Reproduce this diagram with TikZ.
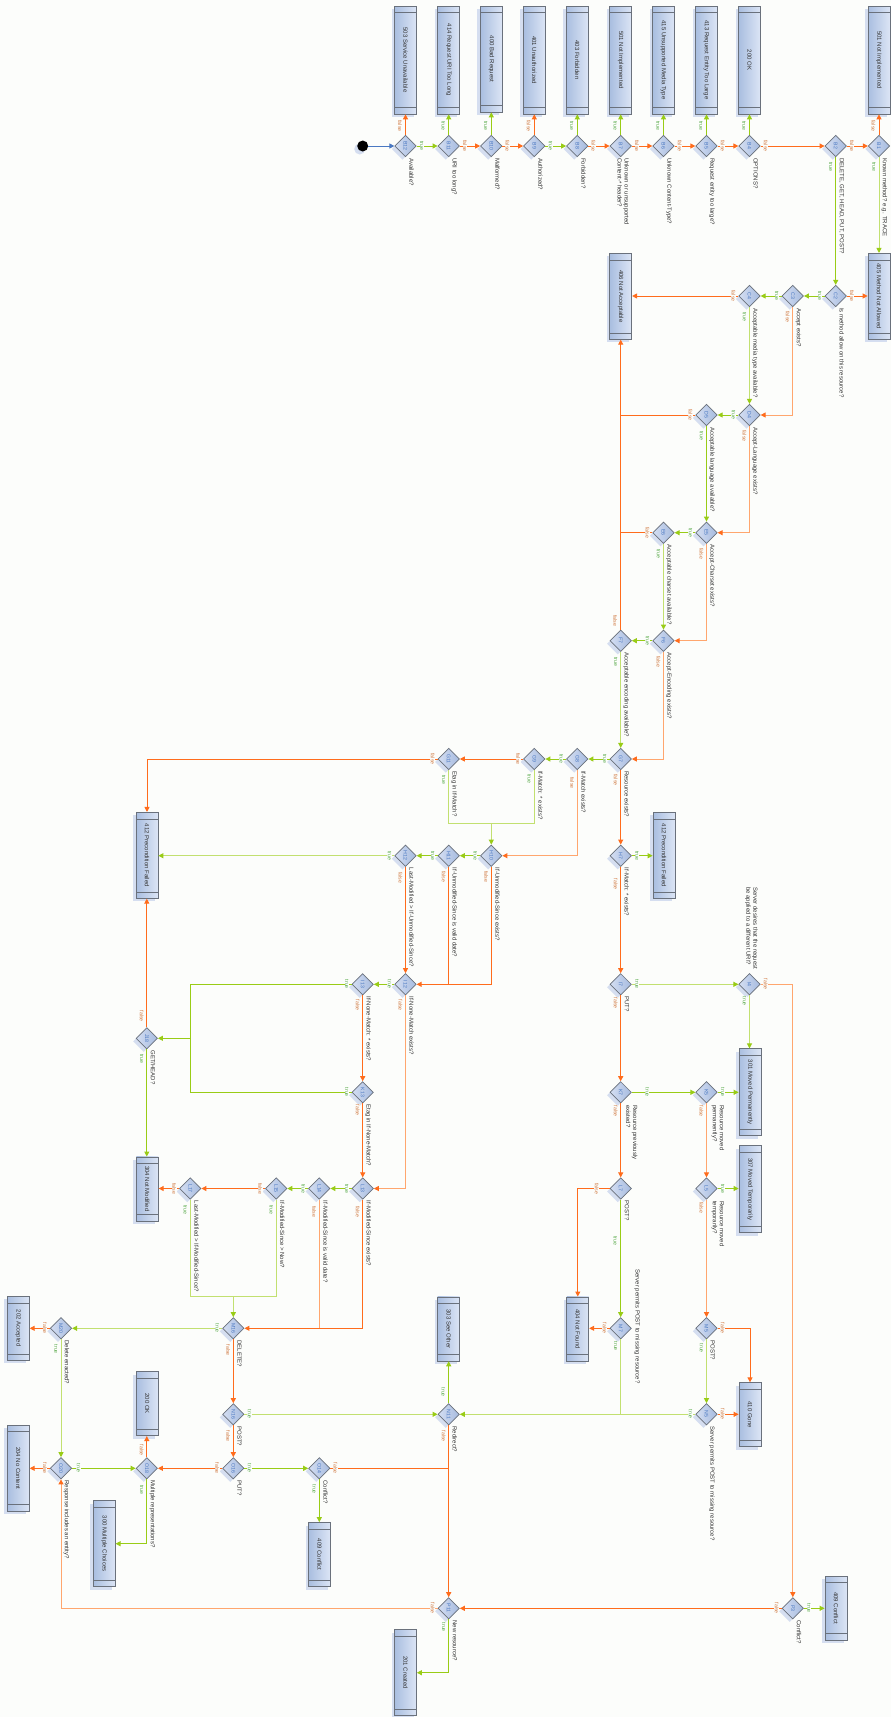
\documentclass[tikz,border=0pt]{standalone}
\usepackage{fontspec}
\setmainfont{Liberation Sans}
\usepackage{graphicx}
\usetikzlibrary{arrows.meta,shapes.geometric,shadows}
\definecolor{bg}{HTML}{FCFDFB}
\definecolor{org}{HTML}{FF6C1C}
\definecolor{orgL}{HTML}{FFA66E}
\definecolor{grn}{HTML}{99CC16}
\definecolor{grnL}{HTML}{C2E070}
\definecolor{tcol}{HTML}{55A846}
\definecolor{fcol}{HTML}{D07840}
\definecolor{idc}{HTML}{4A78C2}
\definecolor{bord}{HTML}{6A717C}
\definecolor{shad}{HTML}{D5DEF0}
\definecolor{boxL}{HTML}{DCE5F5}
\definecolor{boxR}{HTML}{A9BEE0}
\definecolor{diaL}{HTML}{D4DEF2}
\definecolor{diaR}{HTML}{A6BBDF}
\definecolor{txt}{HTML}{333333}
\newcommand\D[5][8.5,12]{\node[dia] (#2) at (#3,#4) {\rotatebox{-90}{#2}};
  \node[q] (#2q) at ([shift={(#1)}]#2.center) {#5};}
\newcommand\B[5]{\node[sbox, minimum height=#4pt] (#1) at (#2,#3) {\rotatebox{-90}{#5}};}
\newcommand\EV[3]{\draw[#1] (#2) -- (#2 |- #3);}
\newcommand\EH[3]{\draw[#1] (#2) -- (#2 -| #3);}
\newcommand\LT[3]{\node[lt] (#1-t) at ([shift={(#2,#3)}]#1.center) {true};}
\newcommand\LF[3]{\node[lf] (#1-f) at ([shift={(#2,#3)}]#1.center) {false};}
\begin{document}
\begin{tikzpicture}[x=1pt,y=-1pt,
  dia/.style={diamond, draw=bord, line width=0.7pt, inner sep=0pt,
    minimum width=21.5pt, minimum height=21.5pt, left color=diaL, right color=diaR,
    general shadow={fill=shad, shadow xshift=-3pt, shadow yshift=-3pt},
    font=\fontsize{5.2}{5.2}\selectfont, text=idc},
  sbox/.style={rectangle, draw=bord, line width=0.7pt, inner sep=0pt,
    minimum width=22pt, left color=boxR, right color=boxL,
    general shadow={fill=shad, shadow xshift=-3pt, shadow yshift=-3pt},
    font=\fontsize{6}{6}\selectfont, text=txt,
    path picture={\draw[bord, line width=0.6pt]
      ([yshift=-6.5pt]path picture bounding box.north west) -- ([yshift=-6.5pt]path picture bounding box.north east)
      ([yshift=6.5pt]path picture bounding box.south west) -- ([yshift=6.5pt]path picture bounding box.south east);}},
  q/.style={rotate=-90, anchor=north west, font=\fontsize{6}{7}\selectfont, align=left, inner sep=0pt, text=txt},
  lt/.style={rotate=-90, font=\fontsize{5.2}{5.2}\selectfont, text=tcol, fill=bg, inner sep=0.4pt},
  lf/.style={rotate=-90, font=\fontsize{5.2}{5.2}\selectfont, text=fcol, fill=bg, inner sep=0.4pt},
  e/.style={line width=1pt},
  tr/.style={e, draw=grn, -{Triangle[length=5pt,width=5pt]}},
  fa/.style={e, draw=org, -{Triangle[length=5pt,width=5pt]}},
  trl/.style={e, draw=grnL, -{Triangle[length=5pt,width=5pt,color=grn]}},
  fal/.style={e, draw=orgL, -{Triangle[length=5pt,width=5pt,color=org]}},
  trn/.style={e, draw=grn},
  fan/.style={e, draw=org},
  trnl/.style={e, draw=grnL},
  fanl/.style={e, draw=orgL},
  bl/.style={e, draw=idc, -{Triangle[length=5pt,width=5pt]}}]
\fill[bg] (0,0) rectangle (891,1717);
\useasboundingbox (0,0) rectangle (891,1717);

% ---- terminal boxes
\B{s503}{405.5}{60}{108}{503 Service Unavailable}
\B{s414}{448.7}{60}{108}{414 Request URI Too Long}
\B{s400}{491.3}{59}{106}{400 Bad Request}
\B{s401}{534.3}{60}{108}{401 Unauthorized}
\B{s403}{577.3}{60}{108}{403 Forbidden}
\B{s501a}{620.7}{60}{108}{501 Not Implemented}
\B{s415}{663.5}{60}{108}{415 Unsupported Media Type}
\B{s413}{706.5}{60}{108}{413 Request Entity Too Large}
\B{s200a}{749.5}{60}{108}{200 OK}
\B{s501b}{879}{60}{108}{501 Not Implemented}
\B{s405}{879}{296.3}{86}{405 Method Not Allowed}
\B{s406}{620.7}{296.3}{86}{406 Not Acceptable}
\B{s412a}{147}{855.3}{86}{412 Precondition Failed}
\B{s412b}{664}{855.3}{86}{412 Precondition Failed}
\B{s304}{147.3}{1188.9}{64}{304 Not Modified}
\B{s301}{750}{1092.3}{87}{301 Moved Permanently}
\B{s307}{750}{1189.2}{87}{307 Moved Temporarily}
\B{s404}{577.8}{1328.9}{64}{404 Not Found}
\B{s303}{448.7}{1328.9}{64}{303 See Other}
\B{s410}{750}{1414.7}{64}{410 Gone}
\B{s409a}{836}{1608}{64}{409 Conflict}
\B{s409b}{319.5}{1554.5}{64}{409 Conflict}
\B{s201}{405.5}{1672.7}{86}{201 Created}
\B{s200b}{147.3}{1403.7}{64}{200 OK}
\B{s300}{104.2}{1543.7}{86}{300 Multiple Choices}
\B{s202}{18.3}{1328.3}{64}{202 Accepted}
\B{s204}{18.3}{1468.2}{86}{204 No Content}

% ---- start
\node[circle, fill=black, minimum size=11pt, inner sep=0pt,
  general shadow={fill=shad, shadow xshift=-3pt, shadow yshift=-3pt}] (start) at (362.7,146) {};

% ---- decisions
\D{B12}{405.5}{146}{Available?}
\D{B11}{448.7}{146}{URI too long?}
\D{B10}{491.3}{146}{Malformed?}
\D{B9}{534.3}{146}{Authorized?}
\D{B8}{577.3}{146}{Forbidden?}
\D{B7}{620.7}{146}{Unknown or unsupported\\Content-* header?}
\D{B6}{663.5}{146}{Unknown Content-Type?}
\D{B5}{706.5}{146}{Request entity too large?}
\D{B4}{749.5}{146}{OPTIONS?}
\D{B2}{835.7}{146}{DELETE, GET, HEAD, PUT, POST?}
\D{B1}{879}{146}{Known method? e.g. TRACE}
\D{C2}{835.7}{296}{Is method allow on this resource?}
\D{C3}{792.8}{296}{Accept exists?}
\D{C4}{749.5}{296}{Acceptable media type available?}
\D{D4}{749.5}{415}{Accept-Language exists?}
\D{D5}{706.5}{415}{Acceptable language available?}
\D{E5}{706.5}{532.7}{Accept-Charset exists?}
\D{E6}{663.5}{532.7}{Acceptable charset available?}
\D{F6}{663.5}{640.7}{Accept-Encoding exists?}
\D{F7}{620.7}{640.7}{Acceptable encoding available?}
\D{G7}{620.7}{759}{Resource exists?}
\D{G8}{577.3}{759}{If-Match exists?}
\D{G9}{534.3}{759}{If-Match: * exists?}
\D{G11}{448.7}{759}{Etag in If-Match?}
\D{H7}{620.7}{855.7}{If-Match: * exists?}
\D{H10}{491.3}{855.7}{If-Unmodified-Since exists?}
\D{H11}{448.7}{855.7}{If-Unmodified-Since is valid date?}
\D{H12}{405.5}{855.7}{Last-Modified > If-Unmodified-Since?}
\D[8.5,-97.3]{I4}{749.5}{984.3}{Server desires that the request\\be applied to a different URI?}
\D{I7}{620.7}{984.3}{PUT?}
\D{I12}{405.5}{984.3}{If-None-Match exists?}
\D{I13}{362.7}{984.3}{If-None-Match: * exists?}
\D{J18}{146.8}{1038.3}{GET/HEAD?}
\D[18,12.5]{K5}{706.5}{1092.3}{Resource moved\\permanently?}
\D[17,12.5]{K7}{620.7}{1092.3}{Resource previously\\existed?}
\D{K13}{362.7}{1092.3}{Etag in If-None-Match?}
\D[18,12.5]{L5}{706.5}{1188.5}{Resource moved\\temporarily?}
\D{L7}{620.7}{1188.5}{POST?}
\D{L13}{362.7}{1188.5}{If-Modified-Since exists?}
\D{L14}{319.3}{1188.5}{If-Modified-Since is valid date?}
\D{L15}{276.2}{1188.5}{If-Modified-Since > Now?}
\D{L17}{190.3}{1188.5}{Last-Modified > If-Modified-Since?}
\D{M5}{706.5}{1328.3}{POST?}
\D[19.5,-59]{M7}{620.7}{1328.3}{Server permits POST to missing resource?}
\D{M16}{233.3}{1328.3}{DELETE?}
\D{M20}{61}{1328.3}{Delete enacted?}
\D{N5}{706.5}{1414.3}{Server permits POST to missing resource?}
\D{N11}{448.7}{1414.3}{Redirect?}
\D{N16}{233.3}{1414.3}{POST?}
\D{O14}{319.3}{1468.3}{Conflict?}
\D{O16}{233.3}{1468.3}{PUT?}
\D{O18}{146.8}{1468.3}{Multiple representations?}
\D{O20}{61}{1468.3}{Response includes an entity?}
\D{P3}{792.8}{1608.3}{Conflict?}
\D{P11}{448.7}{1608.3}{New resource?}

% ---- connectors
\draw[bl] (start) -- (B12.west);
\EV{fa}{B12.north}{s503.south}
\EH{tr}{B12.east}{B11.west}
\EV{tr}{B11.north}{s414.south}
\EH{fa}{B11.east}{B10.west}
\EV{tr}{B10.north}{s400.south}
\EH{fa}{B10.east}{B9.west}
\EV{fa}{B9.north}{s401.south}
\EH{tr}{B9.east}{B8.west}
\EV{tr}{B8.north}{s403.south}
\EH{fa}{B8.east}{B7.west}
\EV{tr}{B7.north}{s501a.south}
\EH{fa}{B7.east}{B6.west}
\EV{tr}{B6.north}{s415.south}
\EH{fa}{B6.east}{B5.west}
\EV{tr}{B5.north}{s413.south}
\EH{fa}{B5.east}{B4.west}
\EV{tr}{B4.north}{s200a.south}
\EH{fa}{B4.east}{B2.west}
\EH{fa}{B2.east}{B1.west}
\EV{tr}{B2.south}{C2.north}
\EV{fa}{B1.north}{s501b.south}
\EV{trl}{B1.south}{s405.north}
% C
\EH{fa}{C2.east}{s405.west}
\EH{tr}{C2.west}{C3.east}
\EH{tr}{C3.west}{C4.east}
\draw[fal] (C3.south) |- (D4.east);
\EH{fa}{C4.west}{s406.east}
\EV{trl}{C4.south}{D4.north}
% D
\EH{tr}{D4.west}{D5.east}
\draw[fal] (D4.south) |- (E5.east);
\draw[fan] (D5.west) -- (D5.west -| s406.south);
\EV{tr}{D5.south}{E5.north}
% E
\EH{tr}{E5.west}{E6.east}
\draw[fal] (E5.south) |- (F6.east);
\draw[fan] (E6.west) -- (E6.west -| s406.south);
\EV{trl}{E6.south}{F6.north}
% F
\EH{tr}{F6.west}{F7.east}
\draw[fal] (F6.south) |- (G7.east);
\EV{fa}{F7.north}{s406.south}
\EV{trl}{F7.south}{G7.north}
% G
\EH{tr}{G7.west}{G8.east}
\EV{fa}{G7.south}{H7.north}
\EH{tr}{G8.west}{G9.east}
\draw[fal] (G8.south) |- (H10.east);
\EH{fa}{G9.west}{G11.east}
\coordinate (jG) at (491.3,823.3);
\draw[trl] (G9.south) |- (jG) -- (H10.north);
\draw[trnl] (G11.south) |- (jG);
\draw[fa] (G11.west) -| (s412a.north);
% H
\EH{tr}{H7.east}{s412b.west}
\EV{fa}{H7.south}{I7.north}
\EH{tr}{H10.west}{H11.east}
\draw[fa] (H10.south) |- (I12.east);
\EH{tr}{H11.west}{H12.east}
\draw[fan] (H11.south) -- (H11.south |- I12.east);
\EH{trl}{H12.west}{s412a.east}
\EV{fa}{H12.south}{I12.north}
% I
\EH{trl}{I7.east}{I4.west}
\EV{fa}{I7.south}{K7.north}
\EV{trl}{I4.south}{s301.north}
\draw[fal] (I4.east) -| (P3.north);
\EH{tr}{I12.west}{I13.east}
\draw[fal] (I12.south) |- (L13.east);
\coordinate (jJ) at (190.3,1038.3);
\draw[tr] (I13.west) -| (jJ) -- (J18.east);
\draw[trn] (K13.west) -| (jJ);
\EV{fa}{I13.south}{K13.north}
% J
\EV{fa}{J18.north}{s412a.south}
\EV{tr}{J18.south}{s304.north}
% K
\EH{tr}{K7.east}{K5.west}
\EV{fa}{K7.south}{L7.north}
\EH{tr}{K5.east}{s301.west}
\EV{fal}{K5.south}{L5.north}
\EV{fa}{K13.south}{L13.north}
% L
\EH{tr}{L5.east}{s307.west}
\EV{fal}{L5.south}{M5.north}
\draw[fa] (L7.west) -| (s404.north);
\EV{tr}{L7.south}{M7.north}
\EH{tr}{L13.west}{L14.east}
\draw[fa] (L13.south) |- (M16.east);
\EH{tr}{L14.west}{L15.east}
\draw[fanl] (L14.south) -- (L14.south |- M16.east);
\EH{fa}{L15.west}{L17.east}
\coordinate (jM) at (233.3,1296);
\draw[trl] (L15.south) |- (jM) -- (M16.north);
\draw[trnl] (L17.south) |- (jM);
\EH{fa}{L17.west}{s304.east}
% M
\draw[fa] (M5.east) -| (s410.north);
\EV{trl}{M5.south}{N5.north}
\EH{fa}{M7.west}{s404.east}
\draw[trnl] (M7.south) -- (M7.south |- N5.west);
\EH{trl}{M16.west}{M20.east}
\EV{fa}{M16.south}{N16.north}
\EH{fa}{M20.west}{s202.east}
\EV{trl}{M20.south}{O20.north}
% N
\EH{fa}{N5.east}{s410.west}
\EH{trl}{N5.west}{N11.east}
\EV{tr}{N11.north}{s303.south}
\EV{fa}{N11.south}{P11.north}
\EH{trl}{N16.east}{N11.west}
\EV{fa}{N16.south}{O16.north}
% O
\EV{tr}{O14.south}{s409b.north}
\draw[fan] (O14.east) -- (O14.east -| N11.south);
\EH{tr}{O16.east}{O14.west}
\EH{fa}{O16.west}{O18.east}
\EV{fa}{O18.north}{s200b.south}
\draw[tr] (O18.south) |- (s300.east);
\EH{tr}{O20.east}{O18.west}
\EH{fa}{O20.west}{s204.east}
% P
\EH{tr}{P3.east}{s409a.west}
\EH{fa}{P3.west}{P11.east}
\draw[fal] (P11.west) -| (O20.south);
\draw[tr] (P11.south) |- (s201.east);

% ---- branch labels
\LF{B12}{-5.5}{-20} \LT{B12}{16.3}{0}
\LT{B11}{-5.5}{-20} \LF{B11}{16.3}{0}
\LT{B10}{-5.5}{-20} \LF{B10}{16.3}{0}
\LF{B9}{-5.5}{-20} \LT{B9}{16.3}{0}
\LT{B8}{-5.5}{-20} \LF{B8}{16.3}{0}
\LT{B7}{-5.5}{-20} \LF{B7}{16.3}{0}
\LT{B6}{-5.5}{-20} \LF{B6}{16.3}{0}
\LT{B5}{-5.5}{-20} \LF{B5}{16.3}{0}
\LT{B4}{-5.5}{-20} \LF{B4}{16.3}{0}
\LF{B2}{16.3}{0} \LT{B2}{-5}{21}
\LF{B1}{-5.5}{-20} \LT{B1}{-5}{21}
\LT{C2}{-16}{0} \LF{C2}{16.3}{0}
\LT{C3}{-16}{0} \LF{C3}{-5}{21}
\LF{C4}{-16}{0} \LT{C4}{-5}{21}
\LT{D4}{-16}{0} \LF{D4}{-5}{21}
\LF{D5}{-16}{0} \LT{D5}{-5}{21}
\LT{E5}{-16}{0} \LF{E5}{-5}{21}
\LF{E6}{-16}{0} \LT{E6}{-5}{21}
\LT{F6}{-16}{0} \LF{F6}{-5}{21}
\LF{F7}{-5.5}{-20} \LT{F7}{-5}{21}
\LT{G7}{-16}{0} \LF{G7}{-5}{21}
\LT{G8}{-16}{0} \LF{G8}{-5}{24}
\LF{G9}{-16}{0} \LT{G9}{-5}{20}
\LF{G11}{-16}{0} \LT{G11}{-5}{21}
\LT{H7}{16.3}{0} \LF{H7}{-5}{28.5}
\LT{H10}{-16}{0} \LF{H10}{-5}{21}
\LT{H11}{-16}{0} \LF{H11}{-5}{21}
\LT{H12}{-16}{0} \LF{H12}{-5}{22}
\LF{I4}{16.3}{0} \LT{I4}{-5}{17}
\LT{I7}{16.3}{0} \LF{I7}{-5}{19}
\LT{I12}{-16}{0} \LF{I12}{-5}{21}
\LT{I13}{-16}{0} \LF{I13}{-5}{21}
\LF{J18}{-5}{-22} \LT{J18}{-5}{20.5}
\LT{K5}{16.3}{0} \LF{K5}{-5}{19}
\LT{K7}{26.6}{0} \LF{K7}{-5}{19}
\LT{K13}{-16}{0} \LF{K13}{-5}{18}
\LT{L5}{16.3}{0} \LF{L5}{-5}{19}
\LF{L7}{-24}{0} \LT{L7}{-5.4}{52}
\LT{L13}{-16}{0} \LF{L13}{-5}{23}
\LT{L14}{-16}{0} \LF{L14}{-5}{23}
\LF{L15}{-16}{0} \LT{L15}{-5}{21.5}
\LF{L17}{-16}{0} \LT{L17}{-5}{21.5}
\LF{M5}{16.3}{0} \LT{M5}{-5}{20}
\LF{M7}{-16}{0} \LT{M7}{-5}{18}
\LT{M16}{-16}{0} \LF{M16}{-5}{22}
\LF{M20}{-16}{0} \LT{M20}{-5}{21}
\LT{N5}{-16}{0} \LF{N5}{16.3}{0}
\LT{N11}{-5.5}{-22} \LF{N11}{-5}{22}
\LT{N16}{16.3}{0} \LF{N16}{-5}{22}
\LF{O14}{16.3}{0} \LT{O14}{-5}{21}
\LT{O16}{16.3}{0} \LF{O16}{-16}{0}
\LF{O18}{-5}{-18} \LT{O18}{-5}{21.5}
\LT{O20}{17.5}{0} \LF{O20}{-16}{0}
\LT{P3}{16.3}{0} \LF{P3}{-16}{0}
\LF{P11}{-16}{0} \LT{P11}{-5}{19}
\end{tikzpicture}
\end{document}
